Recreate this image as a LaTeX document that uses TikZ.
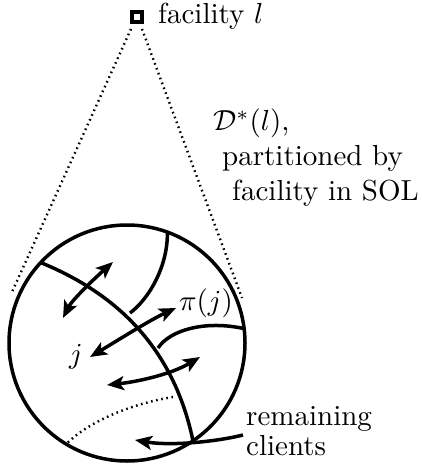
\documentclass[tikz,border=0pt]{standalone}
\usepackage{graphicx}
\usetikzlibrary{arrows.meta}
\newcommand{\bigtxt}[1]{\scalebox{2.9}{#1}}
\begin{document}
\begin{tikzpicture}[x=1pt,y=-1pt,
  txt/.style={inner sep=0pt},
  thickline/.style={line width=3.5pt},
  dotline/.style={line width=2.4pt, dash pattern=on 1.6pt off 3.6pt},
  tip/.style={Stealth[length=17pt,width=14pt,inset=4pt]},
  dbl/.style={line width=3.5pt, {Stealth[length=17pt,width=14pt,inset=4pt]}-{Stealth[length=17pt,width=14pt,inset=4pt]}},
  sgl/.style={line width=3.5pt, -{Stealth[length=17pt,width=14pt,inset=4pt]}},
  fac/.style={draw, line width=3.5pt, minimum size=10pt, inner sep=0pt, outer sep=0pt}]
\useasboundingbox (0,0) rectangle (422,465);
% facility
\node[fac] (l) at (137,17) {};
\node[txt, anchor=base west] (lbl) at (158,24) {\bigtxt{facility $l$}};
\coordinate (lL) at (131,29);
\coordinate (lR) at (142,29);
\coordinate (eL) at (12,292);
\coordinate (eR) at (242,298);
\draw[dotline] (lL) -- (eL);
\draw[dotline] (lR) -- (eR);
% circle
\node[circle, draw, thickline, minimum size=236pt, inner sep=0pt, outer sep=0pt] (C) at (127,343) {};
% partition curves
\coordinate (Bend) at (130,313);
\coordinate (Cend) at (158,348);
\coordinate (Dend) at (173,397);
\draw[thickline] (C.137) .. controls (95,285) and (170,330) .. (C.-56);
\draw[thickline] (C.70) .. controls (168,265) and (150,298) .. (Bend);
\draw[thickline] (C.7) .. controls (205,320) and (170,330) .. (Cend);
\draw[dotline] (Dend) .. controls (135,403) and (90,420) .. (C.-121);
% arrows
\coordinate (a1) at (63,318); \coordinate (a2) at (113,262);
\coordinate (b1) at (90,357); \coordinate (b2) at (176,308);
\coordinate (c1) at (107,385); \coordinate (c2) at (200,357);
\coordinate (d1) at (243,435); \coordinate (d2) at (135,440);
\draw[dbl] (a1) .. controls (72,300) and (95,278) .. (a2);
\draw[dbl] (b1) .. controls (115,342) and (150,320) .. (b2);
\draw[dbl] (c1) .. controls (135,382) and (170,375) .. (c2);
\draw[sgl] (d1) .. controls (215,442) and (170,446) .. (d2);
% labels
\node[txt] (j) at (76,357) {\bigtxt{$j$}};
\node[txt] (pj) at (206,303) {\bigtxt{$\pi(j)$}};
\node[txt, anchor=base west] (D) at (213,131) {\bigtxt{$\mathcal{D}^{*}(l)$,}};
\node[txt, anchor=base west] (p1) at (222,165) {\bigtxt{partitioned by}};
\node[txt, anchor=base west] (p2) at (232,200) {\bigtxt{facility in SOL}};
\node[txt, anchor=base west] (r1) at (246,425) {\bigtxt{remaining}};
\node[txt, anchor=base west] (r2) at (246,455) {\bigtxt{clients}};
\end{tikzpicture}
\end{document}
